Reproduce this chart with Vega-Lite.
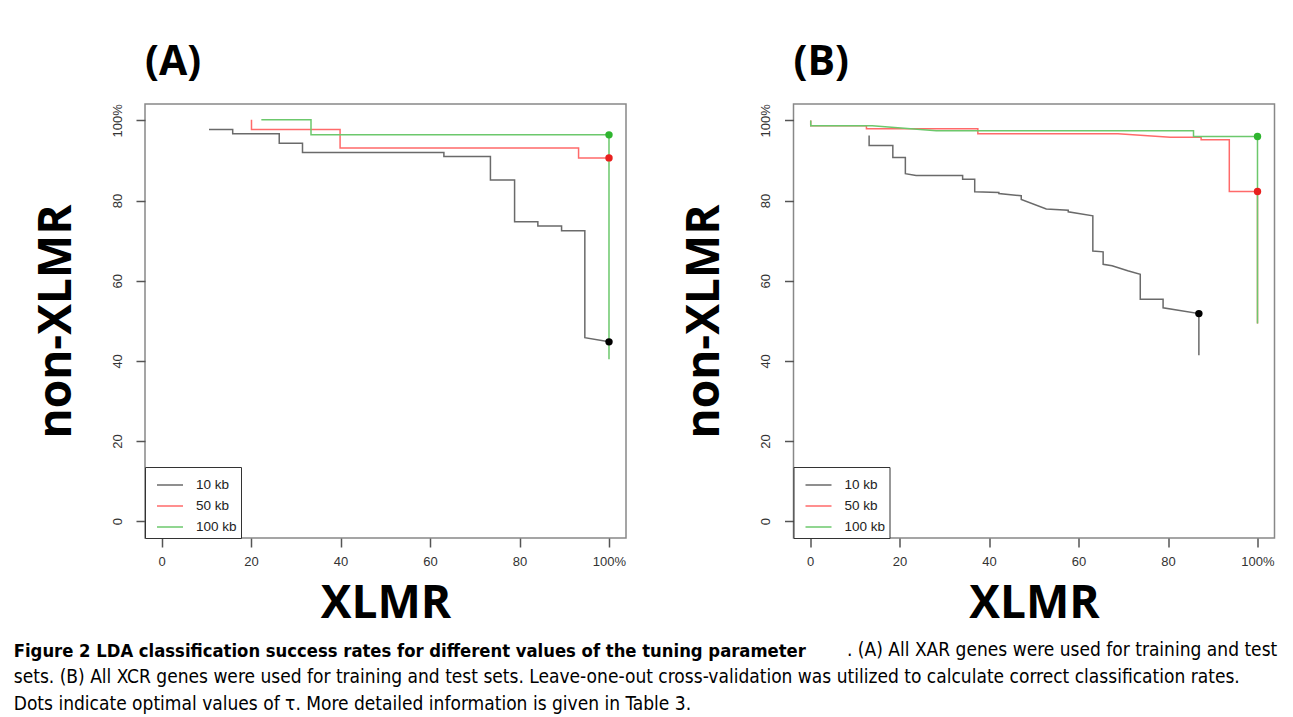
{
  "$schema": "https://vega.github.io/schema/vega-lite/v6.json",
  "padding": {"left": 13, "top": 41, "right": 5, "bottom": 5},
  "background": "white",
  "config": {
    "view": {"stroke": "#888", "strokeWidth": 1.5},
    "axis": {
      "domain": false, "grid": false, "tickColor": "#555", "tickWidth": 1.5, "tickSize": 9,
      "labelFont": "Liberation Sans", "labelFontSize": 13, "labelColor": "#333",
      "labelFlush": false, "labelOverlap": false,
      "titleFont": "Open Sans", "titleFontWeight": "bold", "titleFontSize": 46, "titleColor": "#000"
    }
  },
  "datasets": {
    "lines": [
      {"panel": "A", "series": "10 kb", "i": 0, "x": 10.6, "y": 97.75},
      {"panel": "A", "series": "10 kb", "i": 1, "x": 15.9, "y": 97.75},
      {"panel": "A", "series": "10 kb", "i": 2, "x": 15.9, "y": 96.65},
      {"panel": "A", "series": "10 kb", "i": 3, "x": 26.3, "y": 96.65},
      {"panel": "A", "series": "10 kb", "i": 4, "x": 26.3, "y": 94.3},
      {"panel": "A", "series": "10 kb", "i": 5, "x": 31.5, "y": 94.3},
      {"panel": "A", "series": "10 kb", "i": 6, "x": 31.5, "y": 92.0},
      {"panel": "A", "series": "10 kb", "i": 7, "x": 63.1, "y": 92.0},
      {"panel": "A", "series": "10 kb", "i": 8, "x": 63.1, "y": 91.0},
      {"panel": "A", "series": "10 kb", "i": 9, "x": 73.5, "y": 91.0},
      {"panel": "A", "series": "10 kb", "i": 10, "x": 73.5, "y": 85.15},
      {"panel": "A", "series": "10 kb", "i": 11, "x": 78.9, "y": 85.15},
      {"panel": "A", "series": "10 kb", "i": 12, "x": 78.9, "y": 74.7},
      {"panel": "A", "series": "10 kb", "i": 13, "x": 84.1, "y": 74.7},
      {"panel": "A", "series": "10 kb", "i": 14, "x": 84.1, "y": 73.65},
      {"panel": "A", "series": "10 kb", "i": 15, "x": 89.4, "y": 73.65},
      {"panel": "A", "series": "10 kb", "i": 16, "x": 89.4, "y": 72.5},
      {"panel": "A", "series": "10 kb", "i": 17, "x": 94.6, "y": 72.5},
      {"panel": "A", "series": "10 kb", "i": 18, "x": 94.6, "y": 45.8},
      {"panel": "A", "series": "10 kb", "i": 19, "x": 100, "y": 44.75},
      {"panel": "A", "series": "50 kb", "i": 0, "x": 20.1, "y": 100.15},
      {"panel": "A", "series": "50 kb", "i": 1, "x": 20.1, "y": 97.75},
      {"panel": "A", "series": "50 kb", "i": 2, "x": 39.9, "y": 97.75},
      {"panel": "A", "series": "50 kb", "i": 3, "x": 39.9, "y": 93.15},
      {"panel": "A", "series": "50 kb", "i": 4, "x": 93.2, "y": 93.15},
      {"panel": "A", "series": "50 kb", "i": 5, "x": 93.2, "y": 90.65},
      {"panel": "A", "series": "50 kb", "i": 6, "x": 100, "y": 90.65},
      {"panel": "A", "series": "100 kb", "i": 0, "x": 22.3, "y": 100.15},
      {"panel": "A", "series": "100 kb", "i": 1, "x": 33.4, "y": 100.15},
      {"panel": "A", "series": "100 kb", "i": 2, "x": 33.4, "y": 96.4},
      {"panel": "A", "series": "100 kb", "i": 3, "x": 100, "y": 96.4},
      {"panel": "A", "series": "100 kb", "i": 4, "x": 100, "y": 40.4},
      {"panel": "B", "series": "10 kb", "i": 0, "x": 13.2, "y": 96.25},
      {"panel": "B", "series": "10 kb", "i": 1, "x": 13.2, "y": 93.75},
      {"panel": "B", "series": "10 kb", "i": 2, "x": 18.5, "y": 93.75},
      {"panel": "B", "series": "10 kb", "i": 3, "x": 18.5, "y": 90.75},
      {"panel": "B", "series": "10 kb", "i": 4, "x": 21.3, "y": 90.75},
      {"panel": "B", "series": "10 kb", "i": 5, "x": 21.3, "y": 86.7},
      {"panel": "B", "series": "10 kb", "i": 6, "x": 23.7, "y": 86.25},
      {"panel": "B", "series": "10 kb", "i": 7, "x": 34.1, "y": 86.25},
      {"panel": "B", "series": "10 kb", "i": 8, "x": 34.1, "y": 85.3},
      {"panel": "B", "series": "10 kb", "i": 9, "x": 36.8, "y": 85.3},
      {"panel": "B", "series": "10 kb", "i": 10, "x": 36.8, "y": 82.2},
      {"panel": "B", "series": "10 kb", "i": 11, "x": 42.2, "y": 82.0},
      {"panel": "B", "series": "10 kb", "i": 12, "x": 42.2, "y": 81.75},
      {"panel": "B", "series": "10 kb", "i": 13, "x": 47.2, "y": 81.2},
      {"panel": "B", "series": "10 kb", "i": 14, "x": 47.2, "y": 80.3},
      {"panel": "B", "series": "10 kb", "i": 15, "x": 52.8, "y": 77.9},
      {"panel": "B", "series": "10 kb", "i": 16, "x": 57.7, "y": 77.6},
      {"panel": "B", "series": "10 kb", "i": 17, "x": 57.7, "y": 77.2},
      {"panel": "B", "series": "10 kb", "i": 18, "x": 63.2, "y": 76.2},
      {"panel": "B", "series": "10 kb", "i": 19, "x": 63.2, "y": 67.4},
      {"panel": "B", "series": "10 kb", "i": 20, "x": 65.5, "y": 67.2},
      {"panel": "B", "series": "10 kb", "i": 21, "x": 65.5, "y": 64.1},
      {"panel": "B", "series": "10 kb", "i": 22, "x": 67.5, "y": 63.75},
      {"panel": "B", "series": "10 kb", "i": 23, "x": 71.0, "y": 62.5},
      {"panel": "B", "series": "10 kb", "i": 24, "x": 73.8, "y": 61.6},
      {"panel": "B", "series": "10 kb", "i": 25, "x": 73.8, "y": 55.4},
      {"panel": "B", "series": "10 kb", "i": 26, "x": 78.9, "y": 55.4},
      {"panel": "B", "series": "10 kb", "i": 27, "x": 78.9, "y": 53.25},
      {"panel": "B", "series": "10 kb", "i": 28, "x": 86.9, "y": 51.8},
      {"panel": "B", "series": "10 kb", "i": 29, "x": 86.9, "y": 41.4},
      {"panel": "B", "series": "50 kb", "i": 0, "x": 0.15, "y": 100},
      {"panel": "B", "series": "50 kb", "i": 1, "x": 0.15, "y": 98.7},
      {"panel": "B", "series": "50 kb", "i": 2, "x": 12.6, "y": 98.7},
      {"panel": "B", "series": "50 kb", "i": 3, "x": 12.6, "y": 97.9},
      {"panel": "B", "series": "50 kb", "i": 4, "x": 37.5, "y": 97.9},
      {"panel": "B", "series": "50 kb", "i": 5, "x": 37.5, "y": 96.7},
      {"panel": "B", "series": "50 kb", "i": 6, "x": 68.8, "y": 96.7},
      {"panel": "B", "series": "50 kb", "i": 7, "x": 80.5, "y": 95.8},
      {"panel": "B", "series": "50 kb", "i": 8, "x": 87.4, "y": 95.8},
      {"panel": "B", "series": "50 kb", "i": 9, "x": 87.4, "y": 95.2},
      {"panel": "B", "series": "50 kb", "i": 10, "x": 93.7, "y": 95.2},
      {"panel": "B", "series": "50 kb", "i": 11, "x": 93.7, "y": 82.25},
      {"panel": "B", "series": "50 kb", "i": 12, "x": 100, "y": 82.25},
      {"panel": "B", "series": "50 kb", "i": 13, "x": 100, "y": 49.3},
      {"panel": "B", "series": "100 kb", "i": 0, "x": 0.15, "y": 100},
      {"panel": "B", "series": "100 kb", "i": 1, "x": 0.15, "y": 98.7},
      {"panel": "B", "series": "100 kb", "i": 2, "x": 13.9, "y": 98.7},
      {"panel": "B", "series": "100 kb", "i": 3, "x": 28.2, "y": 97.4},
      {"panel": "B", "series": "100 kb", "i": 4, "x": 85.7, "y": 97.4},
      {"panel": "B", "series": "100 kb", "i": 5, "x": 85.7, "y": 96.0},
      {"panel": "B", "series": "100 kb", "i": 6, "x": 100, "y": 96.0},
      {"panel": "B", "series": "100 kb", "i": 7, "x": 100, "y": 49.3}
    ],
    "dots": [
      {"panel": "A", "dot": "10 kb", "x": 100, "y": 44.75},
      {"panel": "A", "dot": "50 kb", "x": 100, "y": 90.65},
      {"panel": "A", "dot": "100 kb", "x": 100, "y": 96.4},
      {"panel": "B", "dot": "10 kb", "x": 86.9, "y": 51.8},
      {"panel": "B", "dot": "50 kb", "x": 100, "y": 82.25},
      {"panel": "B", "dot": "100 kb", "x": 100, "y": 96.0}
    ]
  },
  "title": {
    "text": ". (A) All XAR genes were used for training and test",
    "orient": "bottom", "anchor": "end", "frame": "bounds",
    "font": "DejaVu Sans Condensed, Liberation Sans Narrow, Liberation Sans", "fontSize": 19, "fontWeight": "normal", "color": "#000",
    "dy": -73, "dx": 2, "offset": 0
  },
  "vconcat": [
    {
      "title": {
        "text": "Figure 2 LDA classification success rates for different values of the tuning parameter",
        "orient": "bottom", "anchor": "start", "frame": "bounds",
        "font": "DejaVu Sans Condensed, Liberation Sans Narrow, Liberation Sans", "fontSize": 18.3, "fontWeight": "bold", "color": "#000",
        "dx": -18.5, "offset": 16,
        "subtitle": [
          "sets. (B) All XCR genes were used for training and test sets. Leave-one-out cross-validation was utilized to calculate correct classification rates.",
          "Dots indicate optimal values of \u03c4. More detailed information is given in Table 3."
        ],
        "subtitleFont": "DejaVu Sans Condensed, Liberation Sans Narrow, Liberation Sans", "subtitleFontSize": 19, "subtitleColor": "#000",
        "subtitleLineHeight": 27, "subtitlePadding": 7
      },
      "spacing": 53.5,
      "resolve": {"scale": {"color": "independent", "fill": "independent"}},
      "hconcat": [
        {
          "width": 481, "height": 434,
          "title": {"text": "(A)", "anchor": "start", "frame": "group", "font": "Open Sans", "fontSize": 41, "fontWeight": "bold", "color": "#000", "offset": 19.5},
          "layer": [
            {
              "data": {"name": "lines"},
              "transform": [{"filter": "datum.panel == 'A'"}],
              "mark": {"type": "line", "strokeWidth": 1.5},
              "encoding": {
                "x": {"field": "x", "type": "quantitative", "scale": {"domain": [-3.7, 103.8], "nice": false, "zero": false},
                      "axis": {"values": [0, 20, 40, 60, 80, 100], "labelExpr": "datum.value == 100 ? '100%' : datum.label", "labelPadding": 8, "titlePadding": 13}, "title": "XLMR"},
                "y": {"field": "y", "type": "quantitative", "scale": {"domain": [-4.2, 104.1], "nice": false, "zero": false},
                      "axis": {"values": [0, 20, 40, 60, 80, 100], "labelExpr": "datum.value == 100 ? '100%' : datum.label", "labelAngle": 270, "labelAlign": "center", "labelBaseline": "bottom", "labelPadding": 12, "titlePadding": 31}, "title": "non-XLMR"},
                "color": {"field": "series", "type": "nominal", "sort": ["10 kb", "50 kb", "100 kb"],
                          "scale": {"domain": ["10 kb", "50 kb", "100 kb"], "range": ["#6a6a6a", "#ff6a6a", "#6cc86c"]},
                          "legend": {"orient": "bottom-left", "offset": 0, "title": null, "symbolType": "stroke",
                                     "symbolSize": 676, "symbolStrokeWidth": 1.5, "labelFont": "Liberation Sans",
                                     "labelFontSize": 13.5, "labelColor": "#222", "strokeColor": "#333", "padding": 4,
                                     "symbolOffset": 7, "rowPadding": -9, "labelOffset": 12, "fillColor": "white"}},
                "order": {"field": "i", "type": "quantitative"}
              }
            },
            {
              "data": {"name": "dots"},
              "transform": [{"filter": "datum.panel == 'A'"}],
              "mark": {"type": "circle", "size": 55, "opacity": 1},
              "encoding": {
                "x": {"field": "x", "type": "quantitative"},
                "y": {"field": "y", "type": "quantitative"},
                "fill": {"field": "dot", "type": "nominal", "legend": null,
                         "scale": {"domain": ["10 kb", "50 kb", "100 kb"], "range": ["#000000", "#e8201e", "#2fb52f"]}}
              }
            }
          ]
        },
        {
          "width": 481, "height": 434,
          "title": {"text": "(B)", "anchor": "start", "frame": "group", "font": "Open Sans", "fontSize": 41, "fontWeight": "bold", "color": "#000", "offset": 19.5},
          "layer": [
            {
              "data": {"name": "lines"},
              "transform": [{"filter": "datum.panel == 'B'"}],
              "mark": {"type": "line", "strokeWidth": 1.5},
              "encoding": {
                "x": {"field": "x", "type": "quantitative", "scale": {"domain": [-3.7, 103.8], "nice": false, "zero": false},
                      "axis": {"values": [0, 20, 40, 60, 80, 100], "labelExpr": "datum.value == 100 ? '100%' : datum.label", "labelPadding": 8, "titlePadding": 13}, "title": "XLMR"},
                "y": {"field": "y", "type": "quantitative", "scale": {"domain": [-4.2, 104.1], "nice": false, "zero": false},
                      "axis": {"values": [0, 20, 40, 60, 80, 100], "labelExpr": "datum.value == 100 ? '100%' : datum.label", "labelAngle": 270, "labelAlign": "center", "labelBaseline": "bottom", "labelPadding": 12, "titlePadding": 31}, "title": "non-XLMR"},
                "color": {"field": "series", "type": "nominal", "sort": ["10 kb", "50 kb", "100 kb"],
                          "scale": {"domain": ["10 kb", "50 kb", "100 kb"], "range": ["#6a6a6a", "#ff6a6a", "#6cc86c"]},
                          "legend": {"orient": "bottom-left", "offset": 0, "title": null, "symbolType": "stroke",
                                     "symbolSize": 676, "symbolStrokeWidth": 1.5, "labelFont": "Liberation Sans",
                                     "labelFontSize": 13.5, "labelColor": "#222", "strokeColor": "#333", "padding": 4,
                                     "symbolOffset": 7, "rowPadding": -9, "labelOffset": 12, "fillColor": "white"}},
                "order": {"field": "i", "type": "quantitative"}
              }
            },
            {
              "data": {"name": "dots"},
              "transform": [{"filter": "datum.panel == 'B'"}],
              "mark": {"type": "circle", "size": 55, "opacity": 1},
              "encoding": {
                "x": {"field": "x", "type": "quantitative"},
                "y": {"field": "y", "type": "quantitative"},
                "fill": {"field": "dot", "type": "nominal", "legend": null,
                         "scale": {"domain": ["10 kb", "50 kb", "100 kb"], "range": ["#000000", "#e8201e", "#2fb52f"]}}
              }
            }
          ]
        }
      ]
    }
  ]
}
